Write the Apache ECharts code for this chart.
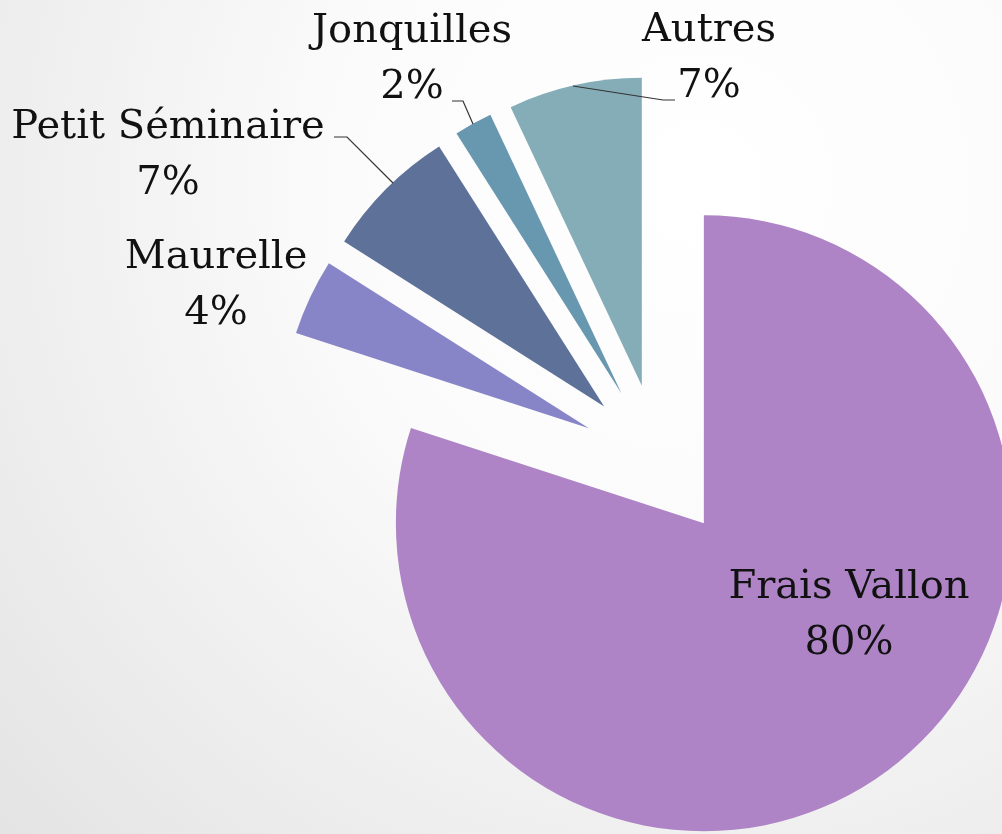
<!DOCTYPE html>
<html>
<head>
<meta charset="utf-8">
<script src="https://cdn.jsdelivr.net/npm/echarts@6/dist/echarts.min.js"></script>
<style>
html,body{margin:0;padding:0;}
#c{width:1002px;height:834px;}
</style>
</head>
<body>
<div id="c"></div>
<script>
// ---- data ----
const categories = ['Frais Vallon', 'Maurelle', 'Petit Séminaire', 'Jonquilles', 'Autres'];
const shares = [80, 4, 7, 2, 7];

// ---- styling ----
const palette = ['#AE84C6', '#8884C8', '#5E7199', '#6897B0', '#85ADB7'];
// label block centre (x, y) and leader lines, per slice
const labelPos = [
  {x: 849, y: 616},
  {x: 216, y: 286},
  {x: 168, y: 156},
  {x: 412, y: 60},
  {x: 709, y: 59}
];
const leaderLines = [
  null,
  null,
  [[393, 183], [347, 137], [334, 137]],
  [[473, 124], [463, 101], [452, 101]],
  [[573, 86], [663, 100], [675, 100]]
];

const chart = echarts.init(document.getElementById('c'), null, {renderer: 'canvas'});

const sliceData = categories.map((name, i) => ({
  name: name,
  value: shares[i],
  selected: true,
  itemStyle: {color: palette[i]},
  select: {itemStyle: {color: palette[i]}}
}));

const labelData = categories.map((name, i) => ({
  name: name,
  value: shares[i],
  labelLine: {show: leaderLines[i] !== null}
}));

const common = {
  type: 'pie',
  center: [658.6, 461],
  radius: 308,
  startAngle: 90,
  clockwise: true,
  avoidLabelOverlap: false,
  silent: true,
  emphasis: {disabled: true}
};

chart.setOption({
  backgroundColor: {
    type: 'radial', x: 0.7, y: 0.22, r: 1.25,
    colorStops: [
      {offset: 0, color: '#ffffff'},
      {offset: 0.35, color: '#fbfbfb'},
      {offset: 1, color: '#e0e0e0'}
    ]
  },
  animation: false,
  series: [
    Object.assign({}, common, {
      name: 'slices',
      z: 2,
      selectedMode: 'multiple',
      selectedOffset: 77,
      itemStyle: {borderWidth: 0},
      label: {show: false},
      labelLine: {show: false},
      data: sliceData
    }),
    Object.assign({}, common, {
      name: 'labels',
      z: 5,
      selectedMode: false,
      itemStyle: {color: 'rgba(0,0,0,0)', borderWidth: 0},
      label: {
        show: true,
        position: 'outside',
        formatter: '{b}\n{d}%',
        fontFamily: 'DejaVu Serif',
        fontSize: 40,
        lineHeight: 56,
        color: '#111111',
        align: 'center'
      },
      labelLine: {
        show: true,
        lineStyle: {color: '#333333', width: 1.2}
      },
      labelLayout: function (params) {
        const i = params.dataIndex;
        const res = {
          x: labelPos[i].x,
          y: labelPos[i].y,
          align: 'center',
          verticalAlign: 'middle'
        };
        if (leaderLines[i]) res.labelLinePoints = leaderLines[i];
        return res;
      },
      data: labelData
    })
  ]
});
</script>
</body>
</html>
